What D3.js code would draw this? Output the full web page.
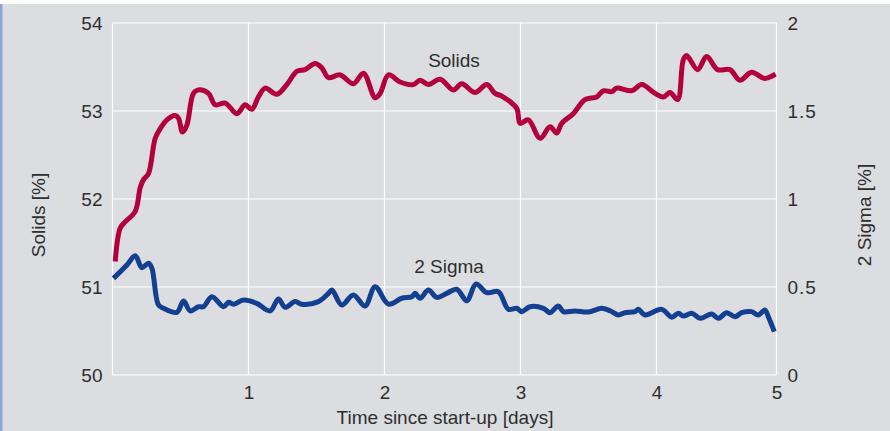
<!DOCTYPE html>
<html>
<head>
<script src="https://cdn.jsdelivr.net/npm/d3@7"></script>
<style>
  body { margin: 0; background: #ffffff; }
  text { font-family: "Liberation Sans", Arial, sans-serif; fill: #2e2e2e; }
</style>
</head>
<body>
<script>

// data
var solidsDays = [0.020,0.057,0.093,0.167,0.204,0.228,0.265,0.314,0.351,0.400,0.461,0.485,0.515,0.547,0.595,0.632,0.706,0.755,0.829,0.914,0.975,
  1.025,1.073,1.122,1.208,1.282,1.355,1.416,1.490,1.539,1.588,1.674,1.771,1.845,1.931,1.968,
  2.029,2.115,2.212,2.262,2.323,2.409,2.506,2.568,2.666,2.752,2.813,2.862,2.972,2.997,
  3.058,3.144,3.217,3.266,3.303,3.388,3.474,3.560,3.609,3.671,3.707,3.818,3.891,3.989,
  4.057,4.112,4.176,4.223,4.251,4.343,4.418,4.509,4.612,4.695,4.792,4.903,4.992];
var solidsValues = [51.29,51.67,51.74,51.86,52.13,52.22,52.29,52.69,52.80,52.90,52.95,52.92,52.76,52.84,53.20,53.24,53.20,53.07,53.09,52.97,53.07,
  53.02,53.16,53.26,53.19,53.30,53.45,53.47,53.54,53.49,53.38,53.41,53.31,53.43,53.15,53.20,
  53.41,53.33,53.30,53.35,53.30,53.36,53.24,53.31,53.21,53.30,53.20,53.17,53.03,52.86,
  52.90,52.69,52.82,52.75,52.86,52.97,53.13,53.16,53.23,53.22,53.26,53.23,53.30,53.20,
  53.16,53.21,53.13,53.58,53.63,53.47,53.62,53.47,53.47,53.35,53.44,53.37,53.42];

var sigmaDays = [0.007,0.106,0.167,0.216,0.265,0.290,0.338,0.375,0.473,0.522,0.571,0.632,0.669,0.731,0.816,0.853,0.889,0.963,
  1.061,1.159,1.220,1.269,1.343,1.392,1.514,1.588,1.613,1.686,1.771,1.857,1.931,
  2.029,2.127,2.201,2.225,2.262,2.323,2.384,2.458,2.531,2.605,2.673,2.752,2.837,2.911,2.972,
  3.009,3.070,3.168,3.217,3.278,3.315,3.401,3.499,3.597,3.658,3.719,3.768,3.842,3.866,3.915,
  4.043,4.127,4.182,4.224,4.294,4.363,4.460,4.515,4.585,4.654,4.710,4.793,4.848,4.904,4.932,4.982];
var sigmaValues = [0.549,0.625,0.678,0.610,0.635,0.606,0.398,0.379,0.356,0.420,0.364,0.388,0.388,0.445,0.388,0.413,0.402,0.426,
  0.407,0.364,0.432,0.385,0.417,0.402,0.417,0.464,0.483,0.398,0.455,0.392,0.502,
  0.403,0.436,0.445,0.464,0.436,0.483,0.441,0.464,0.487,0.422,0.517,0.468,0.473,0.373,0.379,
  0.360,0.388,0.379,0.354,0.392,0.360,0.364,0.358,0.379,0.365,0.341,0.354,0.360,0.373,0.341,
  0.373,0.328,0.351,0.335,0.351,0.322,0.347,0.322,0.354,0.331,0.354,0.360,0.341,0.369,0.331,0.246];

var xTicks = [1, 2, 3, 4, 5];
var leftTicks = [50, 51, 52, 53, 54];
var rightTicks = [0, 0.5, 1, 1.5, 2];
var rightTickLabels = ["0", "0.5", "1", "1.5", "2"];

var width = 890,
    height = 431,
    plotLeft = 112.5,
    plotRight = 776.5,
    plotTop = 23,
    plotBottom = 375,
    fontSize = "19px";

var svg = d3.select("body").append("svg")
    .attr("width", width)
    .attr("height", height);

// background panel + blue edge
svg.append("rect").attr("x", 0).attr("y", 4).attr("width", width).attr("height", height - 4)
   .attr("fill", "#dcdde0");
svg.append("rect").attr("x", 0).attr("y", 4).attr("width", 2.5).attr("height", height - 4)
   .attr("fill", "#8ea6d6");

// the "5" day sits at the right frame, day 4 gridline at 656.5
var x = d3.scaleLinear().domain([0, 4, 5]).range([plotLeft, 656.5, plotRight]);
var yL = d3.scaleLinear().domain([50, 54]).range([plotBottom, plotTop]);
var yR = d3.scaleLinear().domain([0, 2]).range([plotBottom, plotTop]);

// grid
var grid = svg.append("g").attr("stroke", "#ffffff").attr("stroke-width", 1.2);
grid.selectAll("line.v").data([0].concat(xTicks)).enter().append("line")
    .attr("x1", function(d) { return x(d); }).attr("x2", function(d) { return x(d); })
    .attr("y1", plotTop).attr("y2", plotBottom);
grid.selectAll("line.h").data(leftTicks).enter().append("line")
    .attr("x1", plotLeft).attr("x2", plotRight)
    .attr("y1", function(d) { return yL(d); }).attr("y2", function(d) { return yL(d); });

// axes (text only)
var xAxis = d3.axisBottom(x).tickValues(xTicks).tickSize(0).tickPadding(11).tickFormat(d3.format("d"));
var gx = svg.append("g").attr("transform", "translate(0," + plotBottom + ")").call(xAxis);
var yAxisL = d3.axisLeft(yL).tickValues(leftTicks).tickSize(0).tickPadding(10).tickFormat(d3.format("d"));
var gl = svg.append("g").attr("transform", "translate(" + plotLeft + ",0)").call(yAxisL);
var yAxisR = d3.axisRight(yR).tickValues(rightTicks).tickSize(0).tickPadding(11)
    .tickFormat(function(d, i) { return rightTickLabels[i]; });
var gr = svg.append("g").attr("transform", "translate(" + plotRight + ",0)").call(yAxisR);
[gx, gl, gr].forEach(function(g) {
  g.select(".domain").remove();
  g.selectAll("text").style("font-size", fontSize).attr("fill", "#2e2e2e")
   .style("font-family", "'Liberation Sans', Arial, sans-serif");
});
gr.selectAll("text").style("letter-spacing", "1px");

// axis titles
svg.append("text").attr("x", 445).attr("y", 424).attr("text-anchor", "middle")
   .style("font-size", fontSize).text("Time since start-up [days]");
svg.append("text").attr("transform", "translate(45,215) rotate(-90)").attr("text-anchor", "middle")
   .style("font-size", fontSize).text("Solids [%]");
svg.append("text").attr("transform", "translate(871,215) rotate(-90)").attr("text-anchor", "middle")
   .style("font-size", fontSize).text("2 Sigma [%]");

// lines
var solidsLine = d3.line()
    .x(function(d, i) { return x(solidsDays[i]); })
    .y(function(d) { return yL(d); })
    .curve(d3.curveCatmullRom);
var sigmaLine = d3.line()
    .x(function(d, i) { return x(sigmaDays[i]); })
    .y(function(d) { return yR(d); })
    .curve(d3.curveCatmullRom);

svg.append("path").datum(sigmaValues).attr("d", sigmaLine)
   .attr("fill", "none").attr("stroke", "#123f8f").attr("stroke-width", 5).attr("stroke-linejoin", "round");
svg.append("path").datum(solidsValues).attr("d", solidsLine)
   .attr("fill", "none").attr("stroke", "#b3003b").attr("stroke-width", 5).attr("stroke-linejoin", "round");

// series labels
svg.append("text").attr("x", 454).attr("y", 67).attr("text-anchor", "middle")
   .style("font-size", fontSize).text("Solids");
svg.append("text").attr("x", 449).attr("y", 273).attr("text-anchor", "middle")
   .style("font-size", fontSize).text("2 Sigma");

</script>
</body>
</html>
